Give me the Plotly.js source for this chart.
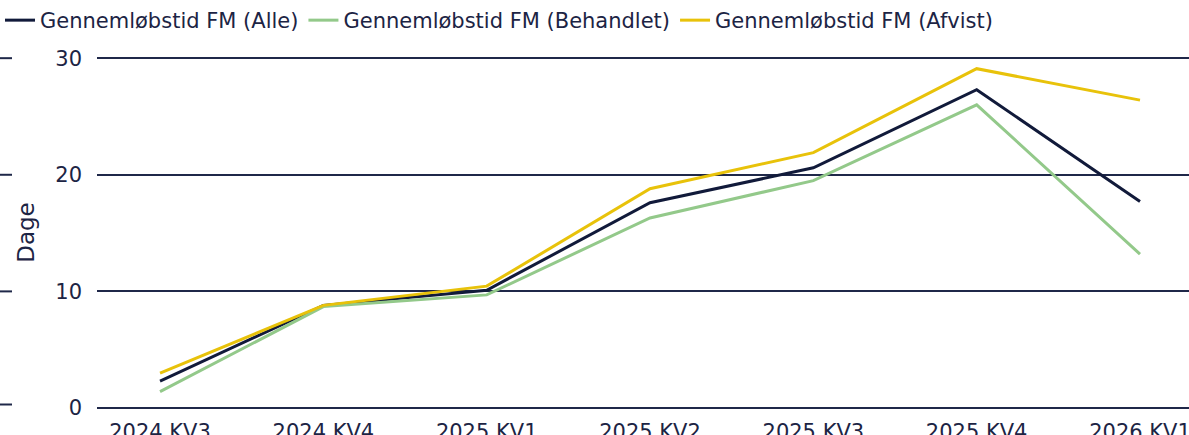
<!DOCTYPE html>
<html><head><meta charset="utf-8">
<script src="https://cdn.plot.ly/plotly-3.0.1.min.js"></script>
<style>html,body{margin:0;padding:0;background:#fff;overflow:hidden}#c{width:1189px;height:435px}</style>
</head><body><div id="c"></div>
<script>
const categories = ["2024 KV3","2024 KV4","2025 KV1","2025 KV2","2025 KV3","2025 KV4","2026 KV1"];
const alle      = [2.3, 8.8, 10.1, 17.6, 20.6, 27.3, 17.7];
const behandlet = [1.4, 8.7, 9.7, 16.3, 19.5, 26.0, 13.2];
const afvist    = [3.0, 8.8, 10.45, 18.8, 21.9, 29.1, 26.4];
const yTicks = [0, 10, 20, 30];
const seriesNames = ["Gennemløbstid FM (Alle)","Gennemløbstid FM (Behandlet)","Gennemløbstid FM (Afvist)"];
const colors = ["#111a3a","#93c98a","#e8c20a"];

const FONT = "DejaVu Sans, Arial, sans-serif";
const TXT = "#1c2444";
const GRID = "#1f2849";

const traces = [alle, behandlet, afvist].map((v,i)=>({
  type:"scatter", mode:"lines", x:categories, y:v, name:seriesNames[i],
  line:{color:colors[i], width:3}, hoverinfo:"skip"
}));

// fragment of neighbouring panel at far left
const L = 97, W = 1189;
const px = p => (p - L)/(W - L);
const shapes = [30,20,10].map(v=>({type:"line", xref:"paper", yref:"y", x0:px(0), x1:px(12), y0:v, y1:v, line:{color:GRID, width:2}}));
shapes.push({type:"line", xref:"paper", yref:"y", x0:px(0), x1:px(12), y0:0.3, y1:0.3, line:{color:GRID, width:2}});

const layout = {
  width:1189, height:435,
  margin:{l:97, r:0, t:57, b:27},
  paper_bgcolor:"#fff", plot_bgcolor:"#fff",
  font:{family:FONT, size:21, color:TXT},
  showlegend:true,
  legend:{orientation:"h", xref:"container", yref:"container", x:0.0, y:1.0, xanchor:"left", yanchor:"top",
          font:{family:FONT, size:21, color:TXT}, bgcolor:"rgba(0,0,0,0)", itemwidth:30, tracegroupgap:0},
  xaxis:{type:"category", range:[-0.386, 6.30], showgrid:false, zeroline:false, showline:false, ticks:"",
         ticklabelstandoff:9, tickfont:{family:FONT, size:21, color:TXT}, fixedrange:true},
  yaxis:{range:[0,30.1], tickvals:yTicks, ticktext:yTicks.map(String), showgrid:true, gridcolor:GRID, gridwidth:2,
         zeroline:true, zerolinecolor:GRID, zerolinewidth:2.5, showline:false, ticks:"", ticklabelstandoff:14,
         tickfont:{family:FONT, size:21, color:TXT},
         title:{text:"Dage", font:{family:FONT, size:23, color:TXT}, standoff:14}, fixedrange:true},
  shapes:shapes,
  annotations:[{xref:"paper", yref:"paper", x:px(13), y:-0.13, xanchor:"right", yanchor:"middle", text:"KV", showarrow:false,
                font:{family:FONT, size:21, color:TXT}}]
};
Plotly.newPlot("c", traces, layout, {displayModeBar:false, staticPlot:true});
</script></body></html>
